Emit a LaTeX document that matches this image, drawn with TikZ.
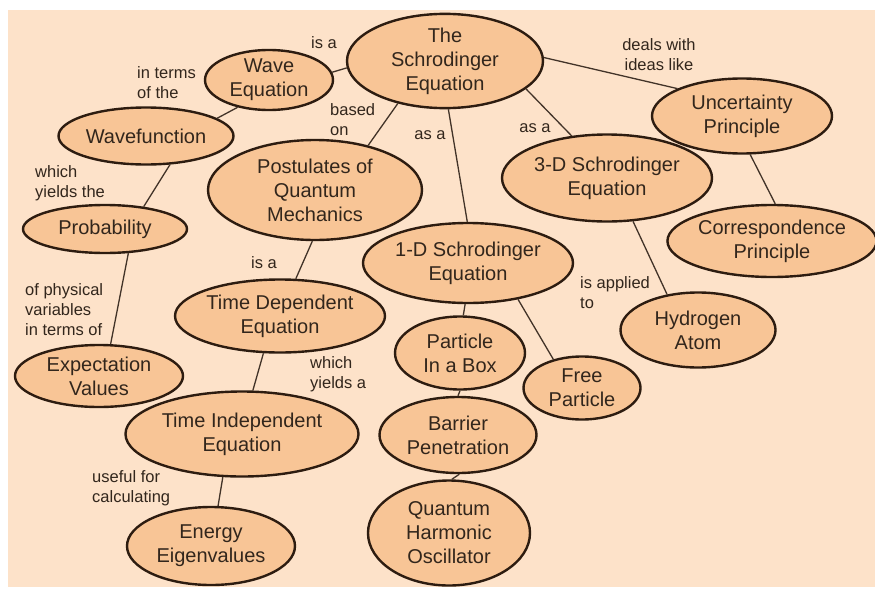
\documentclass[tikz,border=0pt]{standalone}
\usepackage{fontspec}
\setmainfont{Liberation Sans}
\usepackage{tikz}
\usetikzlibrary{shapes.geometric}
\usepackage{xcolor}
\definecolor{bgbeige}{RGB}{253,226,201}
\definecolor{ovalfill}{RGB}{248,197,150}
\definecolor{ovaledge}{RGB}{45,28,16}
\definecolor{inkbrown}{RGB}{50,38,28}

\begin{document}
\begin{tikzpicture}[x=1pt, y=-1pt,
    concept/.style={ellipse, draw=ovaledge, fill=ovalfill, line width=2.4pt, inner sep=0pt,
        align=center, text=inkbrown, font=\fontsize{20}{24}\selectfont},
    link/.style={draw=ovaledge!90, line width=1.3pt},
    linklabel/.style={text=inkbrown, inner sep=0pt, font=\fontsize{16.5}{20}\selectfont}]
    % 背景
    \fill[white] (0,0) rectangle (875,589);
    \fill[bgbeige] (8,10) rectangle (875,587);
    \useasboundingbox (0,0) rectangle (875,589);

    % 概念
    \node[concept, minimum width=196pt, minimum height=93pt] (schr) at (445,61) {The\\Schrodinger\\Equation};
    \node[concept, minimum width=128pt, minimum height=60pt] (wave) at (269,80) {Wave\\Equation};
    \node[concept, minimum width=175pt, minimum height=57pt] (wfn) at (146,136) {Wavefunction};
    \node[concept, minimum width=164pt, minimum height=48pt] (prob) at (105,229) {Probability};
    \node[concept, minimum width=214pt, minimum height=100pt] (post) at (315,190) {Postulates of\\Quantum\\Mechanics};
    \node[concept, minimum width=180pt, minimum height=75pt] (unc) at (742,116) {Uncertainty\\Principle};
    \node[concept, minimum width=210pt, minimum height=87pt] (threed) at (607,178) {3-D Schrodinger\\Equation};
    \node[concept, minimum width=201pt, minimum height=72pt] (corr) at (772,241) {Correspondence\\Principle};
    \node[concept, minimum width=210pt, minimum height=80pt] (oned) at (468,263) {1-D Schrodinger\\Equation};
    \node[concept, minimum width=210pt, minimum height=73pt] (tdep) at (280,316) {Time Dependent\\Equation};
    \node[concept, minimum width=130pt, minimum height=73pt] (box) at (460,353) {Particle\\In a Box};
    \node[concept, minimum width=117pt, minimum height=63pt] (free) at (582,388) {Free\\Particle};
    \node[concept, minimum width=155pt, minimum height=75pt] (hyd) at (698,330) {Hydrogen\\Atom};
    \node[concept, minimum width=168pt, minimum height=62pt] (expv) at (99,376) {Expectation\\Values};
    \node[concept, minimum width=233pt, minimum height=85pt] (tind) at (242,434) {Time Independent\\Equation};
    \node[concept, minimum width=157pt, minimum height=76pt] (barr) at (458,435) {Barrier\\Penetration};
    \node[concept, minimum width=162pt, minimum height=105pt] (qho) at (449,533) {Quantum\\Harmonic\\Oscillator};
    \node[concept, minimum width=168pt, minimum height=78pt] (eig) at (211,546) {Energy\\Eigenvalues};

    % 连线
    \draw[link] (wave.7) -- (schr.184);
    \draw[link] (wave.221) -- (wfn.14);
    \draw[link] (wfn.310) -- (prob.30);
    \draw[link] (prob.314) -- (expv.70);
    \draw[link] (schr.222) -- (post.40);
    \draw[link] (schr.274) -- (oned.91);
    \draw[link] (schr.341) -- (threed.130);
    \draw[link] (schr.2) -- (unc.157);
    \draw[link] (unc.282) -- (corr.85);
    \draw[link] (threed.301) -- (hyd.131);
    \draw[link] (post.267) -- (tdep.67);
    \draw[link] (tdep.246) -- (tind.76);
    \draw[link] (tind.246) -- (eig.80);
    \draw[link] (oned.266) -- (box.85);
    \draw[link] (oned.324) -- (free.135);
    \draw[link] (box.270) -- (barr.90);
    \draw[link] (barr.272) -- (qho.87);

    % 连线上的文字
    \node[linklabel] (isaWave) at (324,43) {is a};
    \node[linklabel, align=left, anchor=west] (termsOf) at (137,83) {in terms\\of the};
    \node[linklabel, align=left, anchor=west] (yieldsThe) at (35,183) {which\\yields the};
    \node[linklabel, align=left, anchor=west] (physVars) at (25,310) {of physical\\variables\\in terms of};
    \node[linklabel, align=left, anchor=west] (basedOn) at (330,120) {based\\on};
    \node[linklabel] (asaOne) at (430,135) {as a};
    \node[linklabel] (asaThree) at (535,128) {as a};
    \node[linklabel, align=center] (dealsWith) at (659,55) {deals with\\ideas like};
    \node[linklabel, align=left, anchor=west] (appliedTo) at (580,293) {is applied\\to};
    \node[linklabel] (isaTime) at (264,263) {is a};
    \node[linklabel, align=left, anchor=west] (yieldsA) at (310,374) {which\\yields a};
    \node[linklabel, align=left, anchor=west] (usefulFor) at (92,488) {useful for\\calculating};
\end{tikzpicture}
\end{document}
